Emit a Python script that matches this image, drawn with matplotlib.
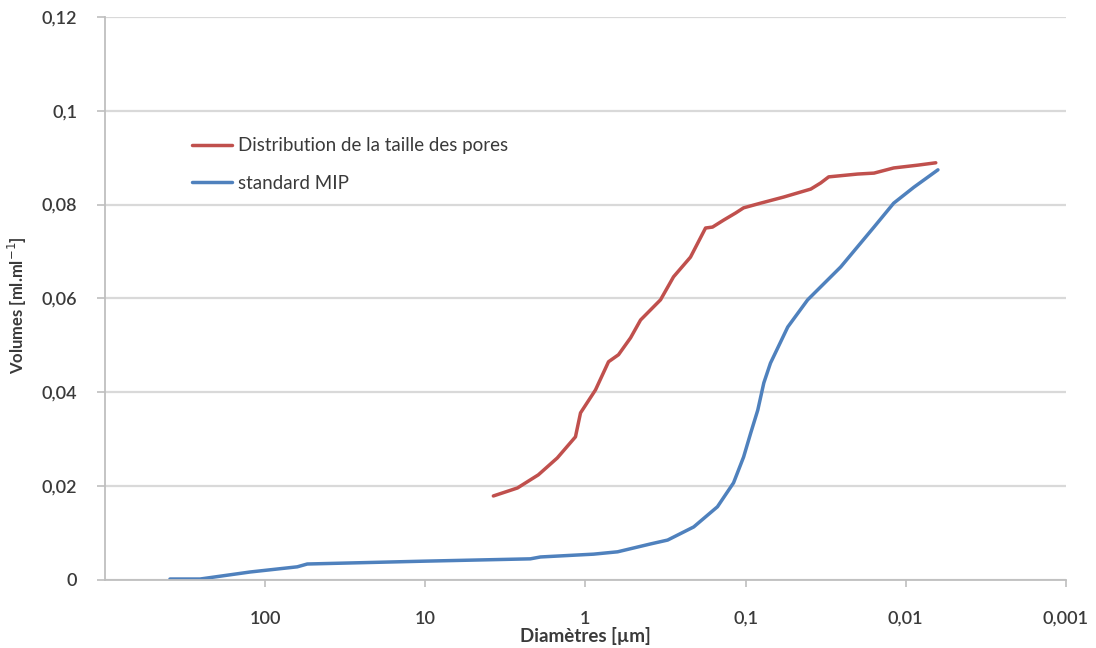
import matplotlib
matplotlib.use("Agg")
import matplotlib.pyplot as plt
from matplotlib.ticker import FixedLocator, NullLocator

# Pore size distribution measured curve (diameter in µm, cumulative volume in ml/ml)
dist_diam = [3.76, 2.66, 1.97, 1.50, 1.155, 1.074, 0.866, 0.718, 0.622, 0.523,
             0.453, 0.340, 0.282, 0.221, 0.178, 0.161, 0.137, 0.1155, 0.103,
             0.0806, 0.0579, 0.0392, 0.0340, 0.0303, 0.020, 0.0158, 0.0119,
             0.0084, 0.0065]
dist_vol = [0.0179, 0.0196, 0.0224, 0.0260, 0.0305, 0.0356, 0.0405, 0.0465,
            0.0480, 0.0516, 0.0554, 0.0597, 0.0646, 0.0688, 0.0750, 0.0752,
            0.0767, 0.0782, 0.0793, 0.0803, 0.0816, 0.0833, 0.0846, 0.0859,
            0.0865, 0.0867, 0.0878, 0.0884, 0.0889]

# Standard mercury intrusion porosimetry curve
mip_diam = [393, 255, 124, 63, 54.6, 10.3, 2.21, 1.91, 0.89, 0.63, 0.39, 0.307,
            0.211, 0.150, 0.119, 0.103, 0.093, 0.084, 0.077, 0.070, 0.0546,
            0.041, 0.0255, 0.0158, 0.0119, 0.0089, 0.0063]
mip_vol = [0.0002, 0.0002, 0.0017, 0.0028, 0.0034, 0.0040, 0.0045, 0.0049,
           0.0055, 0.0060, 0.0077, 0.0085, 0.0113, 0.0156, 0.0207, 0.0262,
           0.0313, 0.0362, 0.0420, 0.0462, 0.0539, 0.0597, 0.0667, 0.0752,
           0.0803, 0.0837, 0.0874]

x_ticks = [100, 10, 1, 0.1, 0.01, 0.001]
x_tick_labels = ["100", "10", "1", "0,1", "0,01", "0,001"]
y_ticks = [0, 0.02, 0.04, 0.06, 0.08, 0.1, 0.12]
y_tick_labels = ["0", "0,02", "0,04", "0,06", "0,08", "0,1", "0,12"]

plt.rcParams["font.family"] = ["Lato", "DejaVu Sans"]
text_col = "#3a3a3a"

fig = plt.figure(figsize=(10.96, 6.48), dpi=100)
ax = fig.add_axes([0.0958, 0.105, 0.8768, 0.869])

ax.plot(dist_diam, dist_vol, color="#C0504D", lw=2.5,
        label="Distribution de la taille des pores", solid_capstyle="round")
ax.plot(mip_diam, mip_vol, color="#4F81BD", lw=2.5,
        label="standard MIP", solid_capstyle="round")

ax.set_xscale("log")
ax.set_xlim(1000, 0.001)
ax.set_ylim(0, 0.12)

ax.xaxis.set_major_locator(FixedLocator(x_ticks))
ax.xaxis.set_minor_locator(NullLocator())
ax.set_xticklabels(x_tick_labels)
ax.set_yticks(y_ticks)
ax.set_yticklabels(y_tick_labels)

ax.grid(axis="y", color="#D9D9D9", lw=1.6)
ax.set_axisbelow(True)
for side in ("top", "right"):
    ax.spines[side].set_visible(False)
for side in ("left", "bottom"):
    ax.spines[side].set_color("#BFBFBF")
    ax.spines[side].set_linewidth(1.3)

ax.tick_params(axis="x", direction="out", length=5, width=1.2, color="#BFBFBF",
               labelsize=13, labelcolor=text_col, pad=17)
ax.tick_params(axis="y", direction="out", length=6, width=1.2, color="#BFBFBF",
               labelsize=13, labelcolor=text_col, pad=14)
for lbl in ax.get_xticklabels() + ax.get_yticklabels():
    lbl.set_fontweight("semibold")

ax.set_xlabel("Diamètres [µm]", fontsize=13.5, fontweight="bold", color=text_col,
              labelpad=0)
ax.set_ylabel("Volumes [ml.ml$^{-1}$]", fontsize=12, fontweight="bold",
              color=text_col)
ax.yaxis.set_label_coords(-0.079, 0.488)

ax.legend(loc="upper left", bbox_to_anchor=(0.0734, 0.816), frameon=False,
          fontsize=13.5, handlelength=2.1, handletextpad=0.32, labelspacing=1.08,
          labelcolor=text_col)

fig.savefig("out.png", dpi=100, facecolor="white")
